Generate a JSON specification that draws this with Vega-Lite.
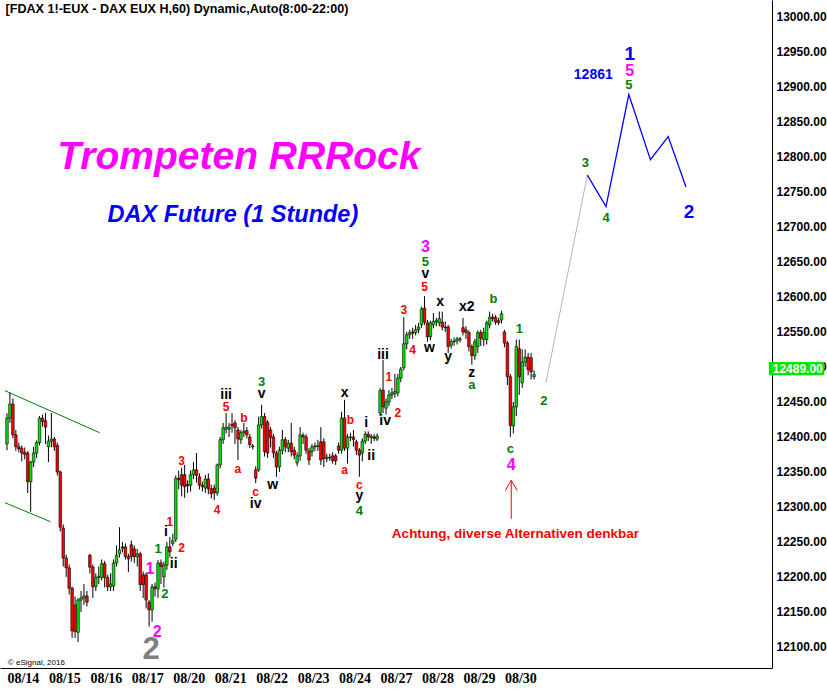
{
"$schema":"https://vega.github.io/schema/vega-lite/v6.json",
"width":772,"height":668,
"autosize":{"type":"none"},
"padding":{"left":0,"top":0,"right":55,"bottom":22},
"background":"white",
"config":{"view":{"stroke":null},"font":"Liberation Sans",
 "axisX":{"orient":"bottom","title":null,"labelAlign":"left","labelFont":"Liberation Sans Narrow","labelFontWeight":"bold","labelFontSize":14,"labelColor":"black","ticks":false,"grid":false,"domainColor":"black","domainWidth":1,"labelPadding":3,"labelOverlap":false},
 "axisY":{"orient":"right","title":null,"labelFont":"Liberation Sans","labelFontWeight":"bold","labelFontSize":12,"labelColor":"black","ticks":false,"grid":false,"domainColor":"black","domainWidth":1,"labelPadding":4,"labelOverlap":false}},
"datasets":{
"candles":[
{"i":0,"o":12390,"h":12434,"l":12381,"c":12427},
{"i":1,"o":12427,"h":12464,"l":12420,"c":12447},
{"i":2,"o":12447,"h":12455,"l":12398,"c":12403},
{"i":3,"o":12403,"h":12410,"l":12380,"c":12386},
{"i":4,"o":12386,"h":12392,"l":12378,"c":12383},
{"i":5,"o":12384,"h":12388,"l":12365,"c":12377},
{"i":6,"o":12378,"h":12385,"l":12368,"c":12375},
{"i":7,"o":12377,"h":12380,"l":12320,"c":12336},
{"i":8,"o":12336,"h":12366,"l":12293,"c":12364},
{"i":9,"o":12364,"h":12386,"l":12357,"c":12377},
{"i":10,"o":12377,"h":12395,"l":12370,"c":12392},
{"i":11,"o":12392,"h":12430,"l":12388,"c":12427},
{"i":12,"o":12427,"h":12432,"l":12415,"c":12422},
{"i":13,"o":12423,"h":12434,"l":12390,"c":12414},
{"i":14,"o":12386,"h":12402,"l":12364,"c":12394},
{"i":15,"o":12394,"h":12434,"l":12385,"c":12397},
{"i":16,"o":12397,"h":12400,"l":12380,"c":12386},
{"i":17,"o":12388,"h":12392,"l":12345,"c":12350},
{"i":18,"o":12350,"h":12352,"l":12265,"c":12271},
{"i":19,"o":12270,"h":12275,"l":12215,"c":12227},
{"i":20,"o":12227,"h":12232,"l":12200,"c":12213},
{"i":21,"o":12213,"h":12218,"l":12175,"c":12184},
{"i":22,"o":12184,"h":12186,"l":12113,"c":12123},
{"i":23,"o":12160,"h":12172,"l":12113,"c":12122},
{"i":24,"o":12121,"h":12170,"l":12107,"c":12167},
{"i":25,"o":12167,"h":12180,"l":12150,"c":12170},
{"i":26,"o":12170,"h":12190,"l":12160,"c":12173},
{"i":27,"o":12173,"h":12180,"l":12158,"c":12164},
{"i":28,"o":12231,"h":12233,"l":12205,"c":12214},
{"i":29,"o":12214,"h":12218,"l":12170,"c":12186},
{"i":30,"o":12186,"h":12205,"l":12180,"c":12199},
{"i":31,"o":12199,"h":12215,"l":12190,"c":12201},
{"i":32,"o":12199,"h":12225,"l":12195,"c":12219},
{"i":33,"o":12219,"h":12223,"l":12185,"c":12199},
{"i":34,"o":12199,"h":12203,"l":12180,"c":12186},
{"i":35,"o":12186,"h":12205,"l":12180,"c":12190},
{"i":36,"o":12187,"h":12225,"l":12180,"c":12220},
{"i":37,"o":12220,"h":12245,"l":12215,"c":12231},
{"i":38,"o":12233,"h":12271,"l":12228,"c":12239},
{"i":39,"o":12243,"h":12250,"l":12235,"c":12241},
{"i":40,"o":12243,"h":12248,"l":12225,"c":12229},
{"i":41,"o":12229,"h":12233,"l":12207,"c":12226},
{"i":42,"o":12246,"h":12252,"l":12222,"c":12229},
{"i":43,"o":12240,"h":12245,"l":12220,"c":12229},
{"i":44,"o":12229,"h":12240,"l":12215,"c":12233},
{"i":45,"o":12233,"h":12236,"l":12180,"c":12189},
{"i":46,"o":12203,"h":12208,"l":12170,"c":12189},
{"i":47,"o":12203,"h":12206,"l":12155,"c":12167},
{"i":48,"o":12164,"h":12167,"l":12129,"c":12153},
{"i":49,"o":12153,"h":12190,"l":12136,"c":12186},
{"i":50,"o":12186,"h":12192,"l":12172,"c":12183},
{"i":51,"o":12183,"h":12224,"l":12170,"c":12220},
{"i":52,"o":12220,"h":12225,"l":12190,"c":12215},
{"i":53,"o":12200,"h":12222,"l":12185,"c":12217},
{"i":54,"o":12217,"h":12250,"l":12210,"c":12243},
{"i":55,"o":12243,"h":12257,"l":12228,"c":12236},
{"i":56,"o":12248,"h":12262,"l":12244,"c":12252},
{"i":57,"o":12254,"h":12345,"l":12250,"c":12341},
{"i":58,"o":12341,"h":12352,"l":12325,"c":12339},
{"i":59,"o":12346,"h":12356,"l":12315,"c":12331},
{"i":60,"o":12346,"h":12360,"l":12313,"c":12329},
{"i":61,"o":12332,"h":12338,"l":12320,"c":12330},
{"i":62,"o":12331,"h":12352,"l":12322,"c":12346},
{"i":63,"o":12346,"h":12364,"l":12340,"c":12353},
{"i":64,"o":12353,"h":12377,"l":12335,"c":12345},
{"i":65,"o":12343,"h":12348,"l":12325,"c":12331},
{"i":66,"o":12331,"h":12336,"l":12322,"c":12329},
{"i":67,"o":12327,"h":12346,"l":12320,"c":12340},
{"i":68,"o":12340,"h":12348,"l":12318,"c":12326},
{"i":69,"o":12326,"h":12332,"l":12312,"c":12319},
{"i":70,"o":12327,"h":12332,"l":12310,"c":12320},
{"i":71,"o":12320,"h":12362,"l":12316,"c":12360},
{"i":72,"o":12360,"h":12400,"l":12355,"c":12396},
{"i":73,"o":12396,"h":12420,"l":12390,"c":12413},
{"i":74,"o":12411,"h":12434,"l":12405,"c":12414},
{"i":75,"o":12411,"h":12420,"l":12400,"c":12414},
{"i":76,"o":12418,"h":12434,"l":12406,"c":12416},
{"i":77,"o":12420,"h":12424,"l":12390,"c":12413},
{"i":78,"o":12410,"h":12414,"l":12367,"c":12397},
{"i":79,"o":12396,"h":12410,"l":12390,"c":12406},
{"i":80,"o":12406,"h":12420,"l":12400,"c":12408},
{"i":81,"o":12409,"h":12414,"l":12398,"c":12403},
{"i":82,"o":12400,"h":12404,"l":12384,"c":12389},
{"i":83,"o":12387,"h":12390,"l":12382,"c":12386},
{"i":84,"o":12353,"h":12358,"l":12334,"c":12341},
{"i":85,"o":12353,"h":12429,"l":12350,"c":12417},
{"i":86,"o":12417,"h":12446,"l":12412,"c":12429},
{"i":87,"o":12429,"h":12434,"l":12372,"c":12379},
{"i":88,"o":12421,"h":12424,"l":12370,"c":12377},
{"i":89,"o":12410,"h":12414,"l":12385,"c":12399},
{"i":90,"o":12400,"h":12404,"l":12370,"c":12377},
{"i":91,"o":12377,"h":12380,"l":12343,"c":12357},
{"i":92,"o":12357,"h":12386,"l":12350,"c":12381},
{"i":93,"o":12381,"h":12410,"l":12375,"c":12396},
{"i":94,"o":12396,"h":12400,"l":12378,"c":12386},
{"i":95,"o":12384,"h":12396,"l":12378,"c":12391},
{"i":96,"o":12391,"h":12420,"l":12372,"c":12379},
{"i":97,"o":12381,"h":12386,"l":12368,"c":12374},
{"i":98,"o":12363,"h":12378,"l":12358,"c":12373},
{"i":99,"o":12373,"h":12414,"l":12366,"c":12403},
{"i":100,"o":12402,"h":12406,"l":12390,"c":12400},
{"i":101,"o":12400,"h":12404,"l":12376,"c":12381},
{"i":102,"o":12380,"h":12384,"l":12360,"c":12367},
{"i":103,"o":12379,"h":12390,"l":12372,"c":12386},
{"i":104,"o":12387,"h":12392,"l":12380,"c":12386},
{"i":105,"o":12386,"h":12396,"l":12380,"c":12388},
{"i":106,"o":12393,"h":12414,"l":12360,"c":12367},
{"i":107,"o":12393,"h":12398,"l":12357,"c":12369},
{"i":108,"o":12369,"h":12376,"l":12364,"c":12371},
{"i":109,"o":12370,"h":12376,"l":12366,"c":12371},
{"i":110,"o":12373,"h":12378,"l":12362,"c":12366},
{"i":111,"o":12373,"h":12376,"l":12360,"c":12366},
{"i":112,"o":12387,"h":12392,"l":12376,"c":12381},
{"i":113,"o":12381,"h":12436,"l":12376,"c":12427},
{"i":114,"o":12427,"h":12453,"l":12380,"c":12384},
{"i":115,"o":12384,"h":12404,"l":12362,"c":12400},
{"i":116,"o":12400,"h":12406,"l":12394,"c":12399},
{"i":117,"o":12400,"h":12410,"l":12386,"c":12396},
{"i":118,"o":12393,"h":12396,"l":12374,"c":12381},
{"i":119,"o":12381,"h":12384,"l":12343,"c":12374},
{"i":120,"o":12377,"h":12398,"l":12365,"c":12394},
{"i":121,"o":12394,"h":12408,"l":12390,"c":12404},
{"i":122,"o":12404,"h":12408,"l":12394,"c":12400},
{"i":123,"o":12399,"h":12404,"l":12390,"c":12401},
{"i":124,"o":12400,"h":12404,"l":12394,"c":12398},
{"i":125,"o":12397,"h":12405,"l":12394,"c":12401},
{"i":126,"o":12434,"h":12470,"l":12430,"c":12466},
{"i":127,"o":12467,"h":12510,"l":12434,"c":12443},
{"i":128,"o":12441,"h":12455,"l":12432,"c":12450},
{"i":129,"o":12450,"h":12467,"l":12444,"c":12460},
{"i":130,"o":12460,"h":12470,"l":12454,"c":12463},
{"i":131,"o":12462,"h":12490,"l":12456,"c":12465},
{"i":132,"o":12463,"h":12490,"l":12458,"c":12484},
{"i":133,"o":12484,"h":12500,"l":12478,"c":12497},
{"i":134,"o":12499,"h":12571,"l":12495,"c":12533},
{"i":135,"o":12533,"h":12550,"l":12525,"c":12546},
{"i":136,"o":12546,"h":12553,"l":12540,"c":12549},
{"i":137,"o":12550,"h":12556,"l":12540,"c":12548},
{"i":138,"o":12549,"h":12560,"l":12545,"c":12553},
{"i":139,"o":12553,"h":12563,"l":12548,"c":12557},
{"i":140,"o":12560,"h":12586,"l":12556,"c":12583},
{"i":141,"o":12584,"h":12601,"l":12560,"c":12564},
{"i":142,"o":12563,"h":12567,"l":12536,"c":12543},
{"i":143,"o":12543,"h":12566,"l":12538,"c":12563},
{"i":144,"o":12560,"h":12577,"l":12555,"c":12565},
{"i":145,"o":12564,"h":12570,"l":12558,"c":12566},
{"i":146,"o":12563,"h":12579,"l":12558,"c":12569},
{"i":147,"o":12564,"h":12579,"l":12552,"c":12557},
{"i":148,"o":12557,"h":12565,"l":12550,"c":12556},
{"i":149,"o":12557,"h":12560,"l":12520,"c":12529},
{"i":150,"o":12531,"h":12540,"l":12526,"c":12536},
{"i":151,"o":12536,"h":12542,"l":12530,"c":12537},
{"i":152,"o":12537,"h":12543,"l":12532,"c":12540},
{"i":153,"o":12539,"h":12543,"l":12535,"c":12540},
{"i":154,"o":12556,"h":12570,"l":12545,"c":12550},
{"i":155,"o":12553,"h":12558,"l":12540,"c":12549},
{"i":156,"o":12549,"h":12552,"l":12522,"c":12529},
{"i":157,"o":12529,"h":12532,"l":12503,"c":12516},
{"i":158,"o":12516,"h":12540,"l":12510,"c":12536},
{"i":159,"o":12529,"h":12552,"l":12520,"c":12549},
{"i":160,"o":12549,"h":12553,"l":12530,"c":12541},
{"i":161,"o":12539,"h":12556,"l":12530,"c":12549},
{"i":162,"o":12539,"h":12566,"l":12532,"c":12563},
{"i":163,"o":12560,"h":12579,"l":12555,"c":12571},
{"i":164,"o":12571,"h":12576,"l":12565,"c":12569},
{"i":165,"o":12571,"h":12574,"l":12560,"c":12564},
{"i":166,"o":12566,"h":12570,"l":12560,"c":12563},
{"i":167,"o":12567,"h":12580,"l":12562,"c":12576},
{"i":168,"o":12550,"h":12553,"l":12528,"c":12534},
{"i":169,"o":12534,"h":12537,"l":12474,"c":12486},
{"i":170,"o":12486,"h":12490,"l":12400,"c":12416},
{"i":171,"o":12416,"h":12450,"l":12405,"c":12443},
{"i":172,"o":12443,"h":12539,"l":12430,"c":12529},
{"i":173,"o":12526,"h":12539,"l":12460,"c":12486},
{"i":174,"o":12477,"h":12525,"l":12470,"c":12507},
{"i":175,"o":12507,"h":12525,"l":12500,"c":12514},
{"i":176,"o":12514,"h":12520,"l":12488,"c":12496},
{"i":177,"o":12513,"h":12520,"l":12482,"c":12493},
{"i":178,"o":12486,"h":12495,"l":12482,"c":12489}
],
"lines":[
{"k":"u","i":-0.67,"p":12466},{"k":"u","i":31.3,"p":12406},
{"k":"d","i":-0.67,"p":12306},{"k":"d","i":14.67,"p":12279}
],
"proj":[
{"i":196,"p":12774},{"i":202.3,"p":12729},{"i":210,"p":12889},{"i":217.3,"p":12796},{"i":223.3,"p":12829},{"i":229.3,"p":12757}
],
"link":[{"i":182,"p":12477},{"i":196,"p":12774}],
"arrow":[{"i":170.3,"p":12283,"p2":12338}],
"tag":[{"i":257.3,"i2":276,"p":12488,"p2":12507,"t":"12489.00","tx":258.6,"pt":12497.5}],
"labels":[
{"i":55,"p":12279,"t":"1","g":"r"},{"i":59,"p":12241,"t":"2","g":"r"},{"i":59,"p":12366,"t":"3","g":"r"},
{"i":71,"p":12296,"t":"4","g":"r"},{"i":74,"p":12443,"t":"5","g":"r"},{"i":80,"p":12427,"t":"b","g":"r"},
{"i":78,"p":12354,"t":"a","g":"r"},{"i":84,"p":12321,"t":"c","g":"r"},{"i":116,"p":12424,"t":"b","g":"r"},
{"i":114,"p":12353,"t":"a","g":"r"},{"i":119,"p":12331,"t":"c","g":"r"},{"i":129,"p":12486,"t":"1","g":"r"},
{"i":132,"p":12434,"t":"2","g":"r"},{"i":134,"p":12581,"t":"3","g":"r"},{"i":137,"p":12524,"t":"4","g":"r"},
{"i":141,"p":12614,"t":"5","g":"r"},
{"i":53.7,"p":12264,"t":"i","g":"k"},{"i":56.3,"p":12219,"t":"ii","g":"k"},{"i":74,"p":12460,"t":"iii","g":"k"},
{"i":86,"p":12461,"t":"v","g":"k"},{"i":84,"p":12304,"t":"iv","g":"k"},{"i":89.7,"p":12331,"t":"w","g":"k"},
{"i":114,"p":12463,"t":"x","g":"k"},{"i":119,"p":12316,"t":"y","g":"k"},{"i":121.3,"p":12420,"t":"i","g":"k"},
{"i":123,"p":12373,"t":"ii","g":"k"},{"i":127,"p":12517,"t":"iii","g":"k"},{"i":127.7,"p":12423,"t":"iv","g":"k"},
{"i":141.3,"p":12633,"t":"v","g":"k"},{"i":146.3,"p":12593,"t":"x","g":"k"},{"i":142.7,"p":12527,"t":"w","g":"k"},
{"i":155.3,"p":12586,"t":"x2","g":"k"},{"i":149,"p":12514,"t":"y","g":"k"},{"i":157,"p":12491,"t":"z","g":"k"},
{"i":51,"p":12240,"t":"1","g":"g"},{"i":53.3,"p":12176,"t":"2","g":"g"},{"i":86,"p":12479,"t":"3","g":"g"},
{"i":119,"p":12294,"t":"4","g":"g"},{"i":141.3,"p":12650,"t":"5","g":"g"},{"i":164.3,"p":12597,"t":"b","g":"g"},
{"i":157,"p":12474,"t":"a","g":"g"},{"i":173,"p":12554,"t":"1","g":"g"},{"i":170,"p":12383,"t":"c","g":"g"},
{"i":181.3,"p":12451,"t":"2","g":"g"},{"i":195.3,"p":12791,"t":"3","g":"g"},{"i":202.3,"p":12713,"t":"4","g":"g"},
{"i":210,"p":12903,"t":"5","g":"g"},
{"i":48.3,"p":12211,"t":"1","g":"m"},{"i":50.7,"p":12121,"t":"2","g":"m"},{"i":141.3,"p":12671,"t":"3","g":"m"},
{"i":170.3,"p":12360,"t":"4","g":"m"},{"i":210.3,"p":12923,"t":"5","g":"m"},
{"i":210.3,"p":12947,"t":"1","g":"b"},{"i":230.3,"p":12721,"t":"2","g":"b"},
{"i":198,"p":12917,"t":"12861","g":"b2"},
{"i":48.7,"p":12096,"t":"2","g":"gr"}
],
"texts":[
{"i":-0.5,"p":13011,"t":"[FDAX 1!-EUX - DAX EUX H,60) Dynamic,Auto(8:00-22:00)","g":"hdr"},
{"i":78.3,"p":12800,"t":"Trompeten RRRock","g":"big"},
{"i":76.3,"p":12717,"t":"DAX Future (1 Stunde)","g":"sub"},
{"i":171.7,"p":12261,"t":"Achtung, diverse Alternativen denkbar","g":"warn"},
{"i":0.3,"p":12077,"t":"© eSignal, 2016","g":"copy"}
]
},
"encoding":{
 "x":{"field":"i","type":"quantitative","scale":{"domain":[-0.667,256.667],"nice":false,"zero":false},
  "axis":{"values":[0,14,28,42,56,70,84,98,112,126,140,154,168],
   "labelExpr":"['08/14','08/15','08/16','08/17','08/20','08/21','08/22','08/23','08/24','08/27','08/28','08/29','08/30'][round(datum.value/14)]"}},
 "y":{"field":"p","type":"quantitative","scale":{"domain":[12070,13024],"nice":false,"zero":false},
  "axis":{"values":[12100,12150,12200,12250,12300,12350,12400,12450,12500,12550,12600,12650,12700,12750,12800,12850,12900,12950,13000],"format":".2f"}}
},
"layer":[
{"data":{"name":"candles"},
 "mark":{"type":"rule","color":"black","strokeWidth":1},
 "encoding":{
  "y":{"field":"l","type":"quantitative","scale":{"domain":[12070,13024],"nice":false,"zero":false},
   "axis":{"values":[12100,12150,12200,12250,12300,12350,12400,12450,12500,12550,12600,12650,12700,12750,12800,12850,12900,12950,13000],"format":".2f"}},
  "y2":{"field":"h"}}},
{"data":{"name":"candles"},
 "mark":{"type":"bar","size":2.6,"stroke":"black","strokeWidth":0.6},
 "encoding":{
  "y":{"field":"o","type":"quantitative","scale":{"domain":[12070,13024],"nice":false,"zero":false},
   "axis":{"values":[12100,12150,12200,12250,12300,12350,12400,12450,12500,12550,12600,12650,12700,12750,12800,12850,12900,12950,13000],"format":".2f"}},
  "y2":{"field":"c"},
  "color":{"condition":{"test":"datum.c >= datum.o","value":"#00e400"},"value":"#ff0000"}}},
{"data":{"name":"lines"},
 "mark":{"type":"line","color":"#008000","strokeWidth":1},
 "encoding":{"detail":{"field":"k"}}},
{"data":{"name":"link"},
 "mark":{"type":"line","color":"#b4b4b4","strokeWidth":1},
 "encoding":{}},
{"data":{"name":"proj"},
 "mark":{"type":"line","color":"#0000ff","strokeWidth":1.3},
 "encoding":{}},
{"data":{"name":"arrow"},
 "mark":{"type":"rule","color":"#ff0000","strokeWidth":1},
 "encoding":{"y2":{"field":"p2"}}},
{"data":{"name":"arrow"},
 "mark":{"type":"point","shape":"M -1 1.7 L 0 0 L 1 1.7","filled":false,"stroke":"#ff0000","strokeWidth":1,"size":144,"opacity":1},
 "encoding":{
  "y":{"field":"p2","type":"quantitative","scale":{"domain":[12070,13024],"nice":false,"zero":false},
   "axis":{"values":[12100,12150,12200,12250,12300,12350,12400,12450,12500,12550,12600,12650,12700,12750,12800,12850,12900,12950,13000],"format":".2f"}}}},
{"data":{"name":"tag"},
 "mark":{"type":"rect","color":"#00e600","clip":false},
 "encoding":{"x2":{"field":"i2"},"y2":{"field":"p2"}}},
{"data":{"name":"tag"},
 "mark":{"type":"text","color":"white","font":"Liberation Sans","fontWeight":"bold","fontSize":12,"align":"left","baseline":"middle","clip":false},
 "encoding":{
  "x":{"field":"tx","type":"quantitative","scale":{"domain":[-0.667,256.667],"nice":false,"zero":false},
   "axis":{"values":[0,14,28,42,56,70,84,98,112,126,140,154,168],
    "labelExpr":"['08/14','08/15','08/16','08/17','08/20','08/21','08/22','08/23','08/24','08/27','08/28','08/29','08/30'][round(datum.value/14)]"}},
  "y":{"field":"pt","type":"quantitative","scale":{"domain":[12070,13024],"nice":false,"zero":false},
   "axis":{"values":[12100,12150,12200,12250,12300,12350,12400,12450,12500,12550,12600,12650,12700,12750,12800,12850,12900,12950,13000],"format":".2f"}},
  "text":{"field":"t"}}},
{"data":{"name":"labels"},"transform":[{"filter":"datum.g=='r'"}],
 "mark":{"type":"text","color":"#ff0000","fontWeight":"bold","fontSize":12,"baseline":"middle"},
 "encoding":{"text":{"field":"t"}}},
{"data":{"name":"labels"},"transform":[{"filter":"datum.g=='k'"}],
 "mark":{"type":"text","color":"black","fontWeight":"bold","fontSize":14,"baseline":"middle"},
 "encoding":{"text":{"field":"t"}}},
{"data":{"name":"labels"},"transform":[{"filter":"datum.g=='g'"}],
 "mark":{"type":"text","color":"#008000","fontWeight":"bold","fontSize":13,"baseline":"middle"},
 "encoding":{"text":{"field":"t"}}},
{"data":{"name":"labels"},"transform":[{"filter":"datum.g=='m'"}],
 "mark":{"type":"text","color":"#ff00ff","fontWeight":"bold","fontSize":16,"baseline":"middle"},
 "encoding":{"text":{"field":"t"}}},
{"data":{"name":"labels"},"transform":[{"filter":"datum.g=='b'"}],
 "mark":{"type":"text","color":"#0000ff","fontWeight":"bold","fontSize":19,"baseline":"middle"},
 "encoding":{"text":{"field":"t"}}},
{"data":{"name":"labels"},"transform":[{"filter":"datum.g=='b2'"}],
 "mark":{"type":"text","color":"#0000ff","fontWeight":"bold","fontSize":14,"baseline":"middle"},
 "encoding":{"text":{"field":"t"}}},
{"data":{"name":"labels"},"transform":[{"filter":"datum.g=='gr'"}],
 "mark":{"type":"text","color":"#808080","fontWeight":"bold","fontSize":31,"baseline":"middle"},
 "encoding":{"text":{"field":"t"}}},
{"data":{"name":"texts"},"transform":[{"filter":"datum.g=='hdr'"}],
 "mark":{"type":"text","color":"black","fontWeight":"bold","fontSize":12.6,"align":"left","baseline":"middle"},
 "encoding":{"text":{"field":"t"}}},
{"data":{"name":"texts"},"transform":[{"filter":"datum.g=='big'"}],
 "mark":{"type":"text","color":"#ff00ff","fontWeight":"bold","fontStyle":"italic","fontSize":39,"baseline":"middle"},
 "encoding":{"text":{"field":"t"}}},
{"data":{"name":"texts"},"transform":[{"filter":"datum.g=='sub'"}],
 "mark":{"type":"text","color":"#0000ff","fontWeight":"bold","fontStyle":"italic","fontSize":23.5,"baseline":"middle"},
 "encoding":{"text":{"field":"t"}}},
{"data":{"name":"texts"},"transform":[{"filter":"datum.g=='warn'"}],
 "mark":{"type":"text","color":"#ff0000","fontWeight":"bold","fontSize":13.5,"baseline":"middle"},
 "encoding":{"text":{"field":"t"}}},
{"data":{"name":"texts"},"transform":[{"filter":"datum.g=='copy'"}],
 "mark":{"type":"text","color":"black","fontSize":8,"align":"left","baseline":"middle"},
 "encoding":{"text":{"field":"t"}}}
]
}
